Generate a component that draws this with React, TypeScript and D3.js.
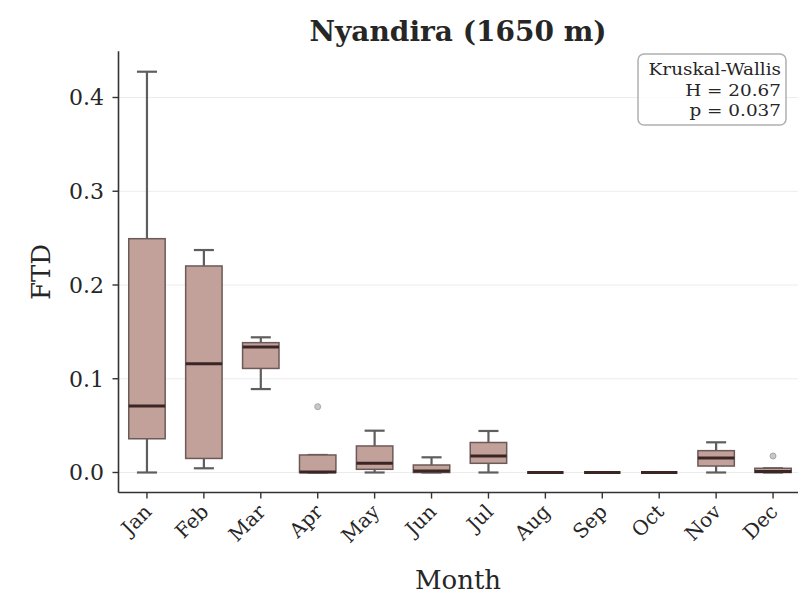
import React from 'react';
import * as d3 from 'd3';

// Monthly FTD distribution summaries (box plot statistics)
const months = ['Jan', 'Feb', 'Mar', 'Apr', 'May', 'Jun', 'Jul', 'Aug', 'Sep', 'Oct', 'Nov', 'Dec'];
const whiskerLow = [0.0, 0.0045, 0.089, 0.0, 0.0, 0.0, 0.0, 0.0, 0.0, 0.0, 0.0, 0.0];
const q1 = [0.036, 0.015, 0.111, 0.0, 0.0034, 0.0, 0.0098, 0.0, 0.0, 0.0, 0.0069, 0.0];
const medians = [0.0709, 0.116, 0.134, 0.0005, 0.0098, 0.0015, 0.0176, 0.0, 0.0, 0.0, 0.0155, 0.001];
const q3 = [0.2494, 0.2203, 0.1385, 0.0187, 0.0283, 0.008, 0.032, 0.0, 0.0, 0.0, 0.0233, 0.0045];
const whiskerHigh = [0.4275, 0.2373, 0.1442, 0.0187, 0.0446, 0.0162, 0.0443, 0.0, 0.0, 0.0, 0.0322, 0.0045];
const outliers: number[][] = [[], [], [], [0.0702], [], [], [], [], [], [], [], [0.0176]];

const yTicks = [0.0, 0.1, 0.2, 0.3, 0.4];
const statLines = ['Kruskal-Wallis', 'H = 20.67', 'p = 0.037'];
const title = 'Nyandira (1650 m)';

const W = 798;
const H = 598;
const FONT = '"DejaVu Serif", serif';

export default function App() {
  const x = d3.scaleLinear().domain([-0.5, 11.5]).range([118.5, 801.5]);
  const y = d3.scaleLinear().domain([0, 0.4]).range([472.5, 97.5]);
  const yMin = -0.0214;
  const yMax = 0.4494;
  const step = x(1) - x(0);
  const boxW = step * 0.64;
  const capW = boxW * 0.55;

  const fill = '#c3a19b';
  const edge = '#6b5a58';
  const whisk = '#5e5e5e';
  const med = '#3a2624';
  const ink = '#262626';

  return (
    <svg width={W} height={H} style={{ position: 'absolute', left: 0, top: 0, background: '#fff' }}>
      <rect x={0} y={0} width={W} height={H} fill="#fff" />
      {/* grid */}
      {yTicks.map((t) => (
        <line key={'g' + t} x1={x(-0.5)} x2={W} y1={y(t)} y2={y(t)} stroke="#ececec" strokeWidth={1} />
      ))}

      {/* boxes */}
      {months.map((m, i) => {
        const cx = x(i);
        return (
          <g key={m}>
            <line x1={cx} x2={cx} y1={y(q3[i])} y2={y(whiskerHigh[i])} stroke={whisk} strokeWidth={2.2} />
            <line x1={cx} x2={cx} y1={y(q1[i])} y2={y(whiskerLow[i])} stroke={whisk} strokeWidth={2.2} />
            <line x1={cx - capW / 2} x2={cx + capW / 2} y1={y(whiskerHigh[i])} y2={y(whiskerHigh[i])} stroke={whisk} strokeWidth={2.2} />
            <line x1={cx - capW / 2} x2={cx + capW / 2} y1={y(whiskerLow[i])} y2={y(whiskerLow[i])} stroke={whisk} strokeWidth={2.2} />
            <rect
              x={cx - boxW / 2}
              y={y(q3[i])}
              width={boxW}
              height={Math.max(0, y(q1[i]) - y(q3[i]))}
              fill={fill}
              stroke={edge}
              strokeWidth={1.5}
            />
            <line x1={cx - boxW / 2} x2={cx + boxW / 2} y1={y(medians[i])} y2={y(medians[i])} stroke={med} strokeWidth={3} />
            {outliers[i].map((v, k) => (
              <circle key={k} cx={cx} cy={y(v)} r={3} fill="#c8c8c8" stroke="#a8a8a8" strokeWidth={1} />
            ))}
          </g>
        );
      })}

      {/* spines */}
      <line x1={x(-0.5)} x2={x(-0.5)} y1={y(yMax)} y2={y(yMin)} stroke="#333" strokeWidth={1.6} />
      <line x1={x(-0.5)} x2={W} y1={y(yMin)} y2={y(yMin)} stroke="#333" strokeWidth={1.6} />

      {/* y ticks */}
      {yTicks.map((t) => (
        <g key={'y' + t}>
          <line x1={x(-0.5) - 6} x2={x(-0.5)} y1={y(t)} y2={y(t)} stroke="#333" strokeWidth={1.4} />
          <text x={104} y={y(t)} dy="0.36em" textAnchor="end" fontFamily={FONT} fontSize={22} fill={ink}>
            {d3.format('.1f')(t)}
          </text>
        </g>
      ))}

      {/* x ticks */}
      {months.map((m, i) => (
        <g key={'x' + m}>
          <line x1={x(i)} x2={x(i)} y1={y(yMin)} y2={y(yMin) + 6} stroke="#333" strokeWidth={1.4} />
          <text
            transform={`translate(${x(i) + 6},513) rotate(-45)`}
            textAnchor="end"
            fontFamily={FONT}
            fontSize={20}
            fill={ink}
          >
            {m}
          </text>
        </g>
      ))}

      {/* axis labels */}
      <text x={458} y={589} textAnchor="middle" fontFamily={FONT} fontSize={26} fill={ink}>
        Month
      </text>
      <text transform="translate(50,272) rotate(-90)" textAnchor="middle" fontFamily={FONT} fontSize={26} fill={ink}>
        FTD
      </text>

      {/* title */}
      <text x={458} y={41} textAnchor="middle" fontFamily={FONT} fontSize={28} fontWeight="bold" fill={ink}>
        {title}
      </text>

      {/* statistics box */}
      <rect x={638} y={54} width={148} height={71} rx={6} fill="#fff" fillOpacity={0.85} stroke="#b0b0b0" strokeWidth={1.5} />
      {statLines.map((s, k) => (
        <text
          key={s}
          transform={`translate(781,${75 + k * 20.5}) scale(1.15,1)`}
          textAnchor="end"
          fontFamily={FONT}
          fontSize={16}
          fill={ink}
        >
          {s}
        </text>
      ))}
    </svg>
  );
}
